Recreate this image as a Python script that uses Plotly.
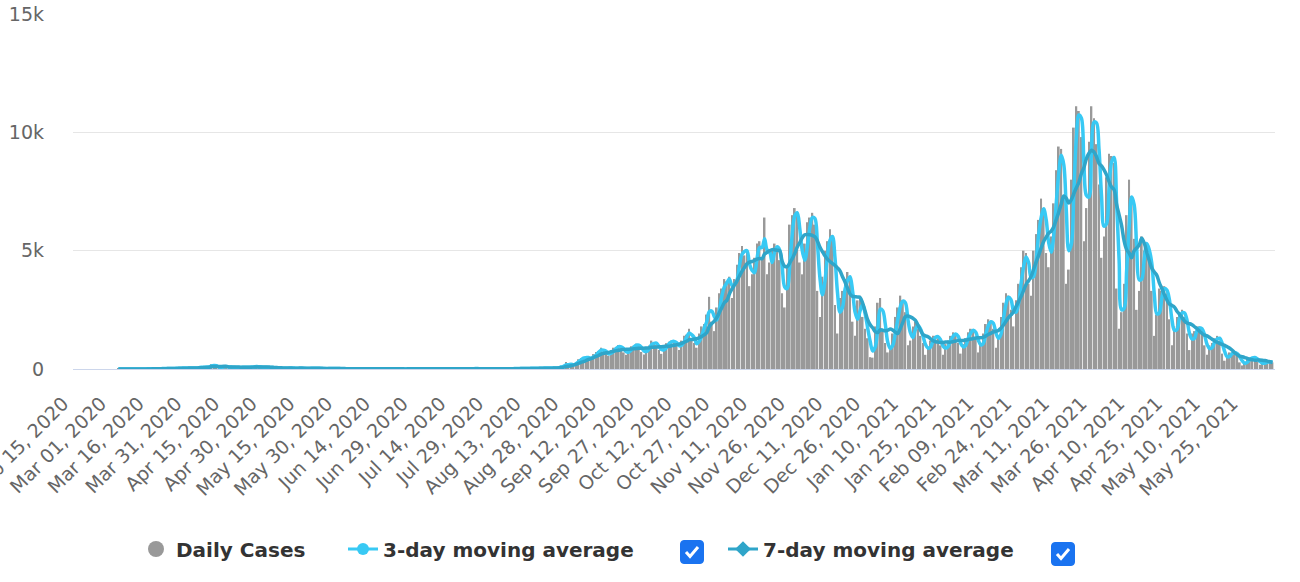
import pandas as pd
import plotly.graph_objects as go

# ---- daily reported cases, one list per month ----
mar_2020 = [2, 0, 3, 2, 0, 2, 3, 1, 3, 0, 11, 2, 7, 11, 8, 7, 18, 12, 35, 18,
            23, 12, 35, 36, 35, 39, 43, 35]                       # from Mar 04
apr_2020 = [60, 38, 38, 55, 73, 84, 73, 90, 85, 210, 140, 63, 50, 117, 115, 81, 62, 99, 55, 48,
            100, 56, 80, 90, 58, 90, 118, 99, 66, 87]
may_2020 = [58, 72, 55, 69, 43, 46, 39, 25, 30, 40, 52, 28, 37, 35, 37, 31, 20, 25, 30, 30,
            35, 27, 24, 15, 12, 17, 22, 18, 28, 13, 14]
jun_2020 = [7, 15, 7, 4, 14, 12, 10, 14, 5, 11, 7, 10, 5, 7, 8, 9, 11, 9, 13, 4,
            3, 10, 3, 7, 3, 4, 9, 2, 10, 6]
jul_2020 = [10, 4, 7, 4, 5, 6, 5, 7, 14, 18, 8, 14, 8, 5, 4, 5, 20, 6, 11, 9,
            4, 8, 24, 16, 10, 17, 9, 12, 10, 13, 20]
aug_2020 = [13, 11, 11, 9, 8, 11, 22, 8, 27, 16, 28, 15, 25, 27, 30, 41, 11, 29, 48, 32,
            40, 40, 40, 48, 38, 79, 132, 108, 292, 147, 175]
sep_2020 = [210, 290, 410, 460, 510, 460,
            500, 420, 630, 720, 760, 900, 710,
            640, 560, 800, 900, 920, 1010, 880,
            700, 600, 850, 960, 980, 1070, 980,
            720, 610, 880]
oct_2020 = [990, 1200, 1050, 1020,
            800, 640, 980, 1090, 1150, 1200, 1150,
            1000, 800, 1200, 1400, 1450, 1700, 1200,
            1100, 900, 1500, 1800, 1900, 2300, 3050,
            2000, 1600, 2600, 3200, 3400, 3800]
nov_2020 = [3700,
            3900, 3000, 3800, 4400, 4900, 5200, 4800,
            5000, 3500, 4000, 4700, 5300, 5400, 4700,
            6400, 4000, 4500, 5000, 5300, 5200, 4600,
            3200, 2600, 4400, 6100, 6500, 6800, 6500,
            4500]
dec_2020 = [4000, 5300, 6200, 6400, 6600, 6100,
            3300, 2200, 3900, 5000, 5400, 5900, 5500,
            2700, 1500, 3000, 3300, 3800, 4100, 3800,
            2000, 1400, 2900, 3100, 2200, 1700, 1300,
            500, 480, 1800, 2800]
jan_2021 = [3000, 1600, 1100,
            700, 800, 1500, 2200, 2600, 3100, 2900,
            2400, 1000, 1200, 1800, 2000, 1700, 1400,
            1100, 600, 950, 1200, 1400, 1400, 1300,
            1000, 600, 1050, 1200, 1400, 1550, 1500]
feb_2021 = [1100, 650, 1050, 1300, 1550, 1700, 1650,
            1300, 700, 1050, 1500, 1900, 2100, 2000,
            1700, 900, 1300, 2200, 2800, 3200, 3100,
            2500, 1800, 2900, 3600, 4300, 5000, 4900]
mar_2021 = [3600, 3100, 5000, 5700, 6300, 7200, 6800,
            4900, 4300, 5600, 7000, 8400, 9400, 9300,
            7200, 3600, 4200, 8000, 10200, 11100, 10900,
            9800, 5400, 6800, 9600, 11100, 10600, 9500,
            7800, 4700, 5600]
apr_2021 = [8100, 9100, 9000, 8700,
            3400, 1700, 2400, 3600, 6500, 8000, 7300,
            5500, 2500, 3300, 5600, 5000, 5300, 4800,
            3300, 1400, 2300, 3400, 3300, 3500, 3200,
            2100, 1000, 1800, 2200, 2400]
may_2021 = [2500, 2200,
            1500, 800, 1500, 1600, 1800, 1800, 1500,
            1000, 600, 1000, 1100, 1300, 1400, 1200,
            650, 350, 550, 700, 700, 650, 600,
            280, 150, 300, 420, 480, 500, 480,
            300]
jun_2021 = [180, 260, 300, 320, 300, 280]

month_starts = ["2020-03-04", "2020-04-01", "2020-05-01", "2020-06-01", "2020-07-01",
                "2020-08-01", "2020-09-01", "2020-10-01", "2020-11-01", "2020-12-01",
                "2021-01-01", "2021-02-01", "2021-03-01", "2021-04-01", "2021-05-01",
                "2021-06-01"]
month_values = [mar_2020, apr_2020, may_2020, jun_2020, jul_2020, aug_2020, sep_2020,
                oct_2020, nov_2020, dec_2020, jan_2021, feb_2021, mar_2021, apr_2021,
                may_2021, jun_2021]

tick_labels = ["Feb 15, 2020", "Mar 01, 2020", "Mar 16, 2020", "Mar 31, 2020",
               "Apr 15, 2020", "Apr 30, 2020", "May 15, 2020", "May 30, 2020",
               "Jun 14, 2020", "Jun 29, 2020", "Jul 14, 2020", "Jul 29, 2020",
               "Aug 13, 2020", "Aug 28, 2020", "Sep 12, 2020", "Sep 27, 2020",
               "Oct 12, 2020", "Oct 27, 2020", "Nov 11, 2020", "Nov 26, 2020",
               "Dec 11, 2020", "Dec 26, 2020", "Jan 10, 2021", "Jan 25, 2021",
               "Feb 09, 2021", "Feb 24, 2021", "Mar 11, 2021", "Mar 26, 2021",
               "Apr 10, 2021", "Apr 25, 2021", "May 10, 2021", "May 25, 2021"]
y_ticks = [0, 5000, 10000, 15000]
y_tick_labels = ["0", "5k", "10k", "15k"]

# ---- build series ----
pieces = []
for start, vals in zip(month_starts, month_values):
    pieces.append(pd.Series(vals, index=pd.date_range(start, periods=len(vals), freq="D")))
daily = pd.concat(pieces)
ma3 = daily.rolling(3, min_periods=1).mean()
ma7 = daily.rolling(7, min_periods=1).mean()
tick_vals = pd.to_datetime(tick_labels, format="%b %d, %Y")

BAR = "#999999"
C3 = "#38c9f4"
C7 = "#2fa5c9"
FONT = "DejaVu Sans"

fig = go.Figure()
fig.add_trace(go.Bar(x=daily.index, y=daily.values, marker_color=BAR, marker_line_width=0,
                     name="Daily Cases", showlegend=False))
fig.add_trace(go.Scatter(x=ma3.index, y=ma3.values, mode="lines", line=dict(color=C3, width=3.5, shape="spline"),
                         name="3-day moving average", showlegend=False))
fig.add_trace(go.Scatter(x=ma7.index, y=ma7.values, mode="lines", line=dict(color=C7, width=3.5, shape="spline"),
                         name="7-day moving average", showlegend=False))

# legend entries
fig.add_trace(go.Scatter(x=[None], y=[None], mode="markers", name="Daily Cases",
                         marker=dict(symbol="circle", size=20, color=BAR), legend="legend"))
fig.add_trace(go.Scatter(x=[None], y=[None], mode="lines+markers", name="3-day moving average",
                         line=dict(color=C3, width=3), marker=dict(symbol="circle", size=12, color=C3),
                         legend="legend2"))
fig.add_trace(go.Scatter(x=[None], y=[None], mode="lines+markers", name="7-day moving average",
                         line=dict(color=C7, width=3), marker=dict(symbol="diamond", size=12, color=C7),
                         legend="legend3"))

W, H = 1300, 582
L, R, T, B = 73, 25, 14, 213
PW, PH = W - L - R, H - T - B

def px(x):
    return (x - L) / PW

def py(y):
    return (H - B - y) / PH

leg_font = dict(family=FONT, size=20, color="#333333", weight="bold")
common = dict(orientation="h", yanchor="middle", xanchor="left", font=leg_font,
              xref="container", yref="container",
              bgcolor="rgba(0,0,0,0)", itemclick=False, itemdoubleclick=False)
LEG_Y = (H - 549) / H

# checkboxes
shapes = []
for cx, cy in [(692, 552), (1063, 554)]:
    shapes.append(dict(type="path", xref="paper", yref="paper", xsizemode="pixel", ysizemode="pixel",
                       xanchor=px(cx), yanchor=py(cy),
                       path="M -8,-11.5 L 8,-11.5 Q 11.5,-11.5 11.5,-8 L 11.5,8 Q 11.5,11.5 8,11.5 "
                            "L -8,11.5 Q -11.5,11.5 -11.5,8 L -11.5,-8 Q -11.5,-11.5 -8,-11.5 Z",
                       fillcolor="#1a73f0", line=dict(color="#1a73f0", width=1)))
    shapes.append(dict(type="path", xref="paper", yref="paper", xsizemode="pixel", ysizemode="pixel",
                       xanchor=px(cx), yanchor=py(cy),
                       path="M -6,0 L -2,-4.5 L 6,5",
                       line=dict(color="white", width=3)))

fig.update_layout(
    width=W, height=H,
    margin=dict(l=L, r=R, t=T, b=B, pad=0, autoexpand=False),
    paper_bgcolor="white", plot_bgcolor="white",
    bargap=0.3,
    font=dict(family=FONT, color="#666666", size=19),
    xaxis=dict(type="date", range=["2020-02-14 23:00", "2021-06-07"],
               tickvals=tick_vals, ticktext=tick_labels, tickangle=-45,
               tickfont=dict(family=FONT, size=19, color="#666666"),
               ticklabelshift=-10, ticklabelstandoff=15, ticklabeloverflow="allow",
               showgrid=False, showline=True, linecolor="#ccd6eb", linewidth=1,
               zeroline=False, ticks="", automargin=False),
    yaxis=dict(range=[0, 15000], tickvals=y_ticks, ticktext=y_tick_labels,
               tickfont=dict(family=FONT, size=19, color="#666666"),
               showgrid=True, gridcolor="#e6e6e6", gridwidth=1, zeroline=False,
               showline=False, ticks="", ticklabelstandoff=28, automargin=False),
    legend=dict(x=136 / W, y=LEG_Y, **common),
    legend2=dict(x=343 / W, y=LEG_Y, **common),
    legend3=dict(x=723 / W, y=LEG_Y, **common),
    shapes=shapes,
    hovermode="x",
)

fig.write_html("out.html", config={"displayModeBar": False},
               post_script="document.body.style.margin='0px';document.body.style.overflow='hidden';")
